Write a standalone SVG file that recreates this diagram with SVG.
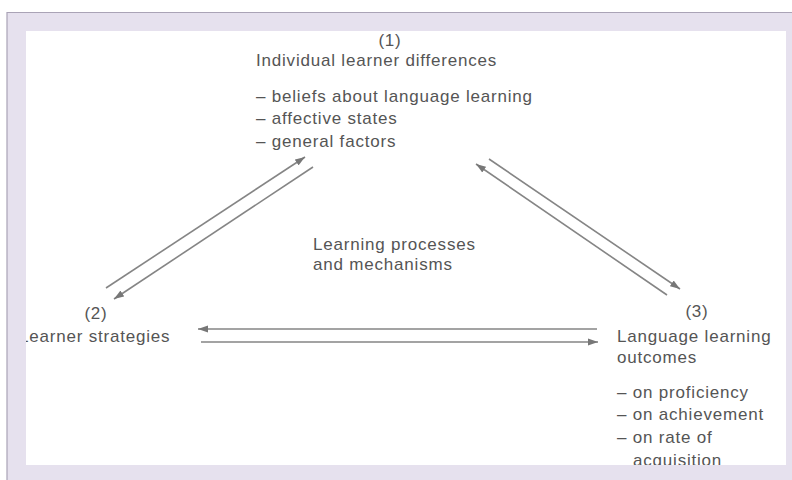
<svg xmlns="http://www.w3.org/2000/svg" width="792" height="480" viewBox="0 0 792 480">
  <defs>
    <style>
      .t { font-family: "Liberation Sans", Arial, sans-serif; font-size: 17px; letter-spacing: 0.8px; fill: #555; }
      .mid { text-anchor: middle; }
      .link { stroke: #858585; stroke-width: 1.6; fill: none; marker-end: url(#head); }
    </style>
    <marker id="head" markerUnits="userSpaceOnUse" markerWidth="11" markerHeight="8" refX="10" refY="4" orient="auto">
      <path d="M0,0.5 L10,4 L0,7.5 z" fill="#777"/>
    </marker>
  </defs>

  <!-- page background -->
  <rect x="0" y="0" width="792" height="480" fill="#fff"/>

  <!-- (1) individual learner differences -->
  <g id="node-differences">
    <text class="t mid" x="390" y="46">(1)</text>
    <text class="t" x="256" y="66">Individual learner differences</text>
    <text class="t" x="256" y="102">– beliefs about language learning</text>
    <text class="t" x="256" y="124">– affective states</text>
    <text class="t" x="256" y="147">– general factors</text>
  </g>

  <!-- central label -->
  <g id="node-processes">
    <text class="t" x="313" y="250">Learning processes</text>
    <text class="t" x="313" y="270">and mechanisms</text>
  </g>

  <!-- (2) learner strategies -->
  <g id="node-strategies">
    <text class="t mid" x="96" y="319">(2)</text>
    <text class="t" x="19" y="342">Learner strategies</text>
  </g>

  <!-- (3) language learning outcomes -->
  <g id="node-outcomes">
    <text class="t mid" x="697" y="317">(3)</text>
    <text class="t" x="617" y="342">Language learning</text>
    <text class="t" x="617" y="363">outcomes</text>
    <text class="t" x="617" y="398">– on proficiency</text>
    <text class="t" x="617" y="420">– on achievement</text>
    <text class="t" x="617" y="443">– on rate of</text>
    <text class="t" x="633" y="466">acquisition</text>
  </g>

  <!-- paired arrows between the three nodes -->
  <g id="connectors">
    <line class="link" x1="106" y1="288" x2="305" y2="157"/>
    <line class="link" x1="313" y1="167" x2="114" y2="299"/>
    <line class="link" x1="667" y1="295" x2="476" y2="164"/>
    <line class="link" x1="489" y1="159" x2="680" y2="289"/>
    <line class="link" x1="597" y1="329" x2="198" y2="329"/>
    <line class="link" x1="201" y1="342" x2="598" y2="342"/>
  </g>

  <!-- lavender frame around the panel -->
  <g id="frame">
    <path d="M7,12 H792 V480 H7 Z M26,31 V465 H786 V31 Z" fill="#e6e1ee" fill-rule="evenodd"/>
    <path d="M7,480 V12.5 H792" fill="none" stroke="#aaa3b6" stroke-width="1.2"/>
  </g>
</svg>
